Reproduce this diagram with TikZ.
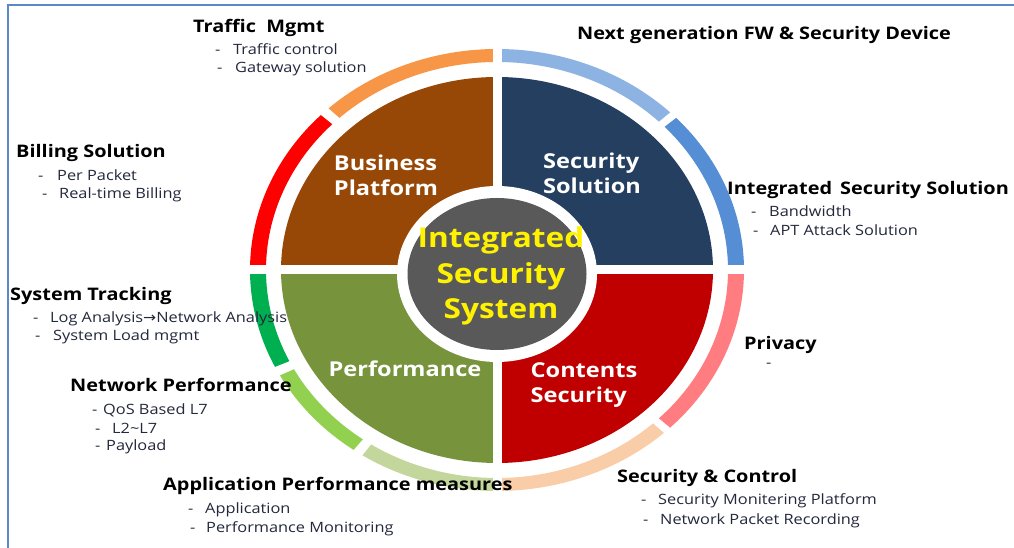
\documentclass[tikz,border=0pt]{standalone}
\usepackage{fontspec}
\setmainfont{Open Sans}[FakeStretch=1.15]
\newfontfamily\arrowfont{DejaVu Sans}[FakeStretch=1.1]

\definecolor{framblue}{HTML}{5B88C8}
\definecolor{bizbrown}{HTML}{974806}
\definecolor{secnavy}{HTML}{243F60}
\definecolor{perfolive}{HTML}{77933C}
\definecolor{contred}{HTML}{C00000}
\definecolor{coregray}{HTML}{595959}
\definecolor{ringorange}{HTML}{F79646}
\definecolor{ringred}{HTML}{FF0000}
\definecolor{ringltblue}{HTML}{8DB3E2}
\definecolor{ringblue}{HTML}{558ED5}
\definecolor{ringpink}{HTML}{FF7C80}
\definecolor{ringpeach}{HTML}{F9CDA8}
\definecolor{ringgreen}{HTML}{00B050}
\definecolor{ringltgreen}{HTML}{92D050}
\definecolor{ringpale}{HTML}{C3D69B}
\definecolor{itemtext}{HTML}{23283C}

\newcommand{\itemdash}[1]{\makebox[#1pt][l]{-}}

\tikzset{
  head/.style={anchor=base west, inner sep=0, font=\fontsize{17.3}{20}\selectfont\bfseries},
  item/.style={anchor=base west, inner sep=0, text=itemtext, font=\fontsize{14.2}{17}\selectfont},
  quadlabel/.style={inner sep=0, text=white, align=left, font=\fontsize{20.5}{25}\selectfont\bfseries},
}

\begin{document}
\begin{tikzpicture}[x=1pt,y=1pt]
\useasboundingbox (0,0) rectangle (1014,548);
% frame
\draw[framblue, line width=2.5pt] (8,0) -- (8,543) -- (1014,543);

\begin{scope}[shift={(497,278)}]
% quadrants
\fill[secnavy] (0,0) -- (0:216 and 193) arc[start angle=0,end angle=90,x radius=216,y radius=193] -- cycle;
\fill[bizbrown] (0,0) -- (90:216 and 193) arc[start angle=90,end angle=180,x radius=216,y radius=193] -- cycle;
\fill[perfolive] (0,0) -- (180:216 and 193) arc[start angle=180,end angle=270,x radius=216,y radius=193] -- cycle;
\fill[contred] (0,0) -- (270:216 and 193) arc[start angle=270,end angle=360,x radius=216,y radius=193] -- cycle;

% outer ring, top left
\fill[ringorange] (90:247 and 221) arc[start angle=90,end angle=133,x radius=247,y radius=221] -- (133:231 and 208) arc[start angle=133,end angle=90,x radius=231,y radius=208] -- cycle;
\fill[ringred] (135.5:247 and 221) arc[start angle=135.5,end angle=180,x radius=247,y radius=221] -- (180:231 and 208) arc[start angle=180,end angle=135.5,x radius=231,y radius=208] -- cycle;
% outer ring, top right
\fill[ringltblue] (45.5:247 and 221) arc[start angle=45.5,end angle=90,x radius=247,y radius=221] -- (90:231 and 208) arc[start angle=90,end angle=45.5,x radius=231,y radius=208] -- cycle;
\fill[ringblue] (0:247 and 221) arc[start angle=0,end angle=43.5,x radius=247,y radius=221] -- (43.5:231 and 208) arc[start angle=43.5,end angle=0,x radius=231,y radius=208] -- cycle;
% outer ring, bottom right
\fill[ringpink] (-45.5:247 and 221) arc[start angle=-45.5,end angle=0,x radius=247,y radius=221] -- (0:231 and 208) arc[start angle=0,end angle=-45.5,x radius=231,y radius=208] -- cycle;
\fill[ringpeach] (-90:247 and 221) arc[start angle=-90,end angle=-47.5,x radius=247,y radius=221] -- (-47.5:231 and 208) arc[start angle=-47.5,end angle=-90,x radius=231,y radius=208] -- cycle;
% outer ring, bottom left
\fill[ringgreen] (180:247 and 221) arc[start angle=180,end angle=206,x radius=247,y radius=221] -- (206:231 and 208) arc[start angle=206,end angle=180,x radius=231,y radius=208] -- cycle;
\fill[ringltgreen] (208.5:247 and 221) arc[start angle=208.5,end angle=234.5,x radius=247,y radius=221] -- (234.5:231 and 208) arc[start angle=234.5,end angle=208.5,x radius=231,y radius=208] -- cycle;
\fill[ringpale] (237:247 and 221) arc[start angle=237,end angle=270,x radius=247,y radius=221] -- (270:231 and 208) arc[start angle=270,end angle=237,x radius=231,y radius=208] -- cycle;

% white gaps along the axes
\draw[white, line width=9pt] (-260,0) -- (260,0);
\draw[white, line width=9pt] (0,-235) -- (0,235);

% core
\fill[white] (0,-4) ellipse [x radius=100, y radius=88];
\fill[coregray] (0,-4) ellipse [x radius=89.5, y radius=76];
\end{scope}

% quadrant labels
\node[quadlabel] (business) at (386,373) {Business\\Platform};
\node[quadlabel] (security) at (592,375) {Security\\Solution};
\node[quadlabel, anchor=base] (performance) at (405,171) {Performance};
\node[quadlabel] (contents) at (584,163) {Contents\\Security};
\node[inner sep=0, align=center, text=yellow, font=\fontsize{27.5}{35.5}\selectfont\bfseries] (core) at (501,272) {Integrated\\Security\\System};

% Traffic Mgmt
\node[head] (traffic) at (193,515) {Traffic\ \ Mgmt};
\node[item] (trafficA) at (215,493) {\itemdash{18}Traffic control};
\node[item] (trafficB) at (217,475) {\itemdash{18}Gateway solution};
% Next generation FW
\node[head] (nextgen) at (577,508) {Next generation FW \& Security Device};
% Billing
\node[head] (billing) at (16,390) {Billing Solution};
\node[item] (billingA) at (38,367) {\itemdash{19}Per Packet};
\node[item] (billingB) at (42,349) {\itemdash{17}Real-time Billing};
% Integrated Security Solution
\node[head] (integ) at (727,353) {Integrated\hspace{8pt}Security Solution};
\node[item] (integA) at (751,331) {\itemdash{18}Bandwidth};
\node[item] (integB) at (753,312) {\itemdash{17}APT Attack Solution};
% System Tracking
\node[head] (tracking) at (10,247) {System\ Tracking};
\node[item] (trackingA) at (33,225) {\itemdash{17}Log Analysis{\arrowfont →}Network Analysis};
\node[item] (trackingB) at (35,207) {\itemdash{18}System Load mgmt};
% Network Performance
\node[head] (netperf) at (70,156) {Network\ Performance};
\node[item] (netperfA) at (92,133) {\itemdash{11}QoS Based\ L7};
\node[item] (netperfB) at (95,114) {\itemdash{17}L2\textasciitilde L7};
\node[item] (netperfC) at (95,97) {\itemdash{11}Payload};
% Application Performance
\node[head] (appperf) at (163,57) {Application Performance\ measures};
\node[item] (appperfA) at (188,34) {\itemdash{17}Application};
\node[item] (appperfB) at (190,15) {\itemdash{16}Performance Monitoring};
% Privacy
\node[head] (privacy) at (744,198) {Privacy};
\node[item] (privacyA) at (766,180) {-};
% Security & Control
\node[head] (secctrl) at (617,65) {Security \& Control};
\node[item] (secctrlA) at (641,43) {\itemdash{17}Security Monitering Platform};
\node[item] (secctrlB) at (643,23) {\itemdash{17}Network Packet Recording};
\end{tikzpicture}
\end{document}
